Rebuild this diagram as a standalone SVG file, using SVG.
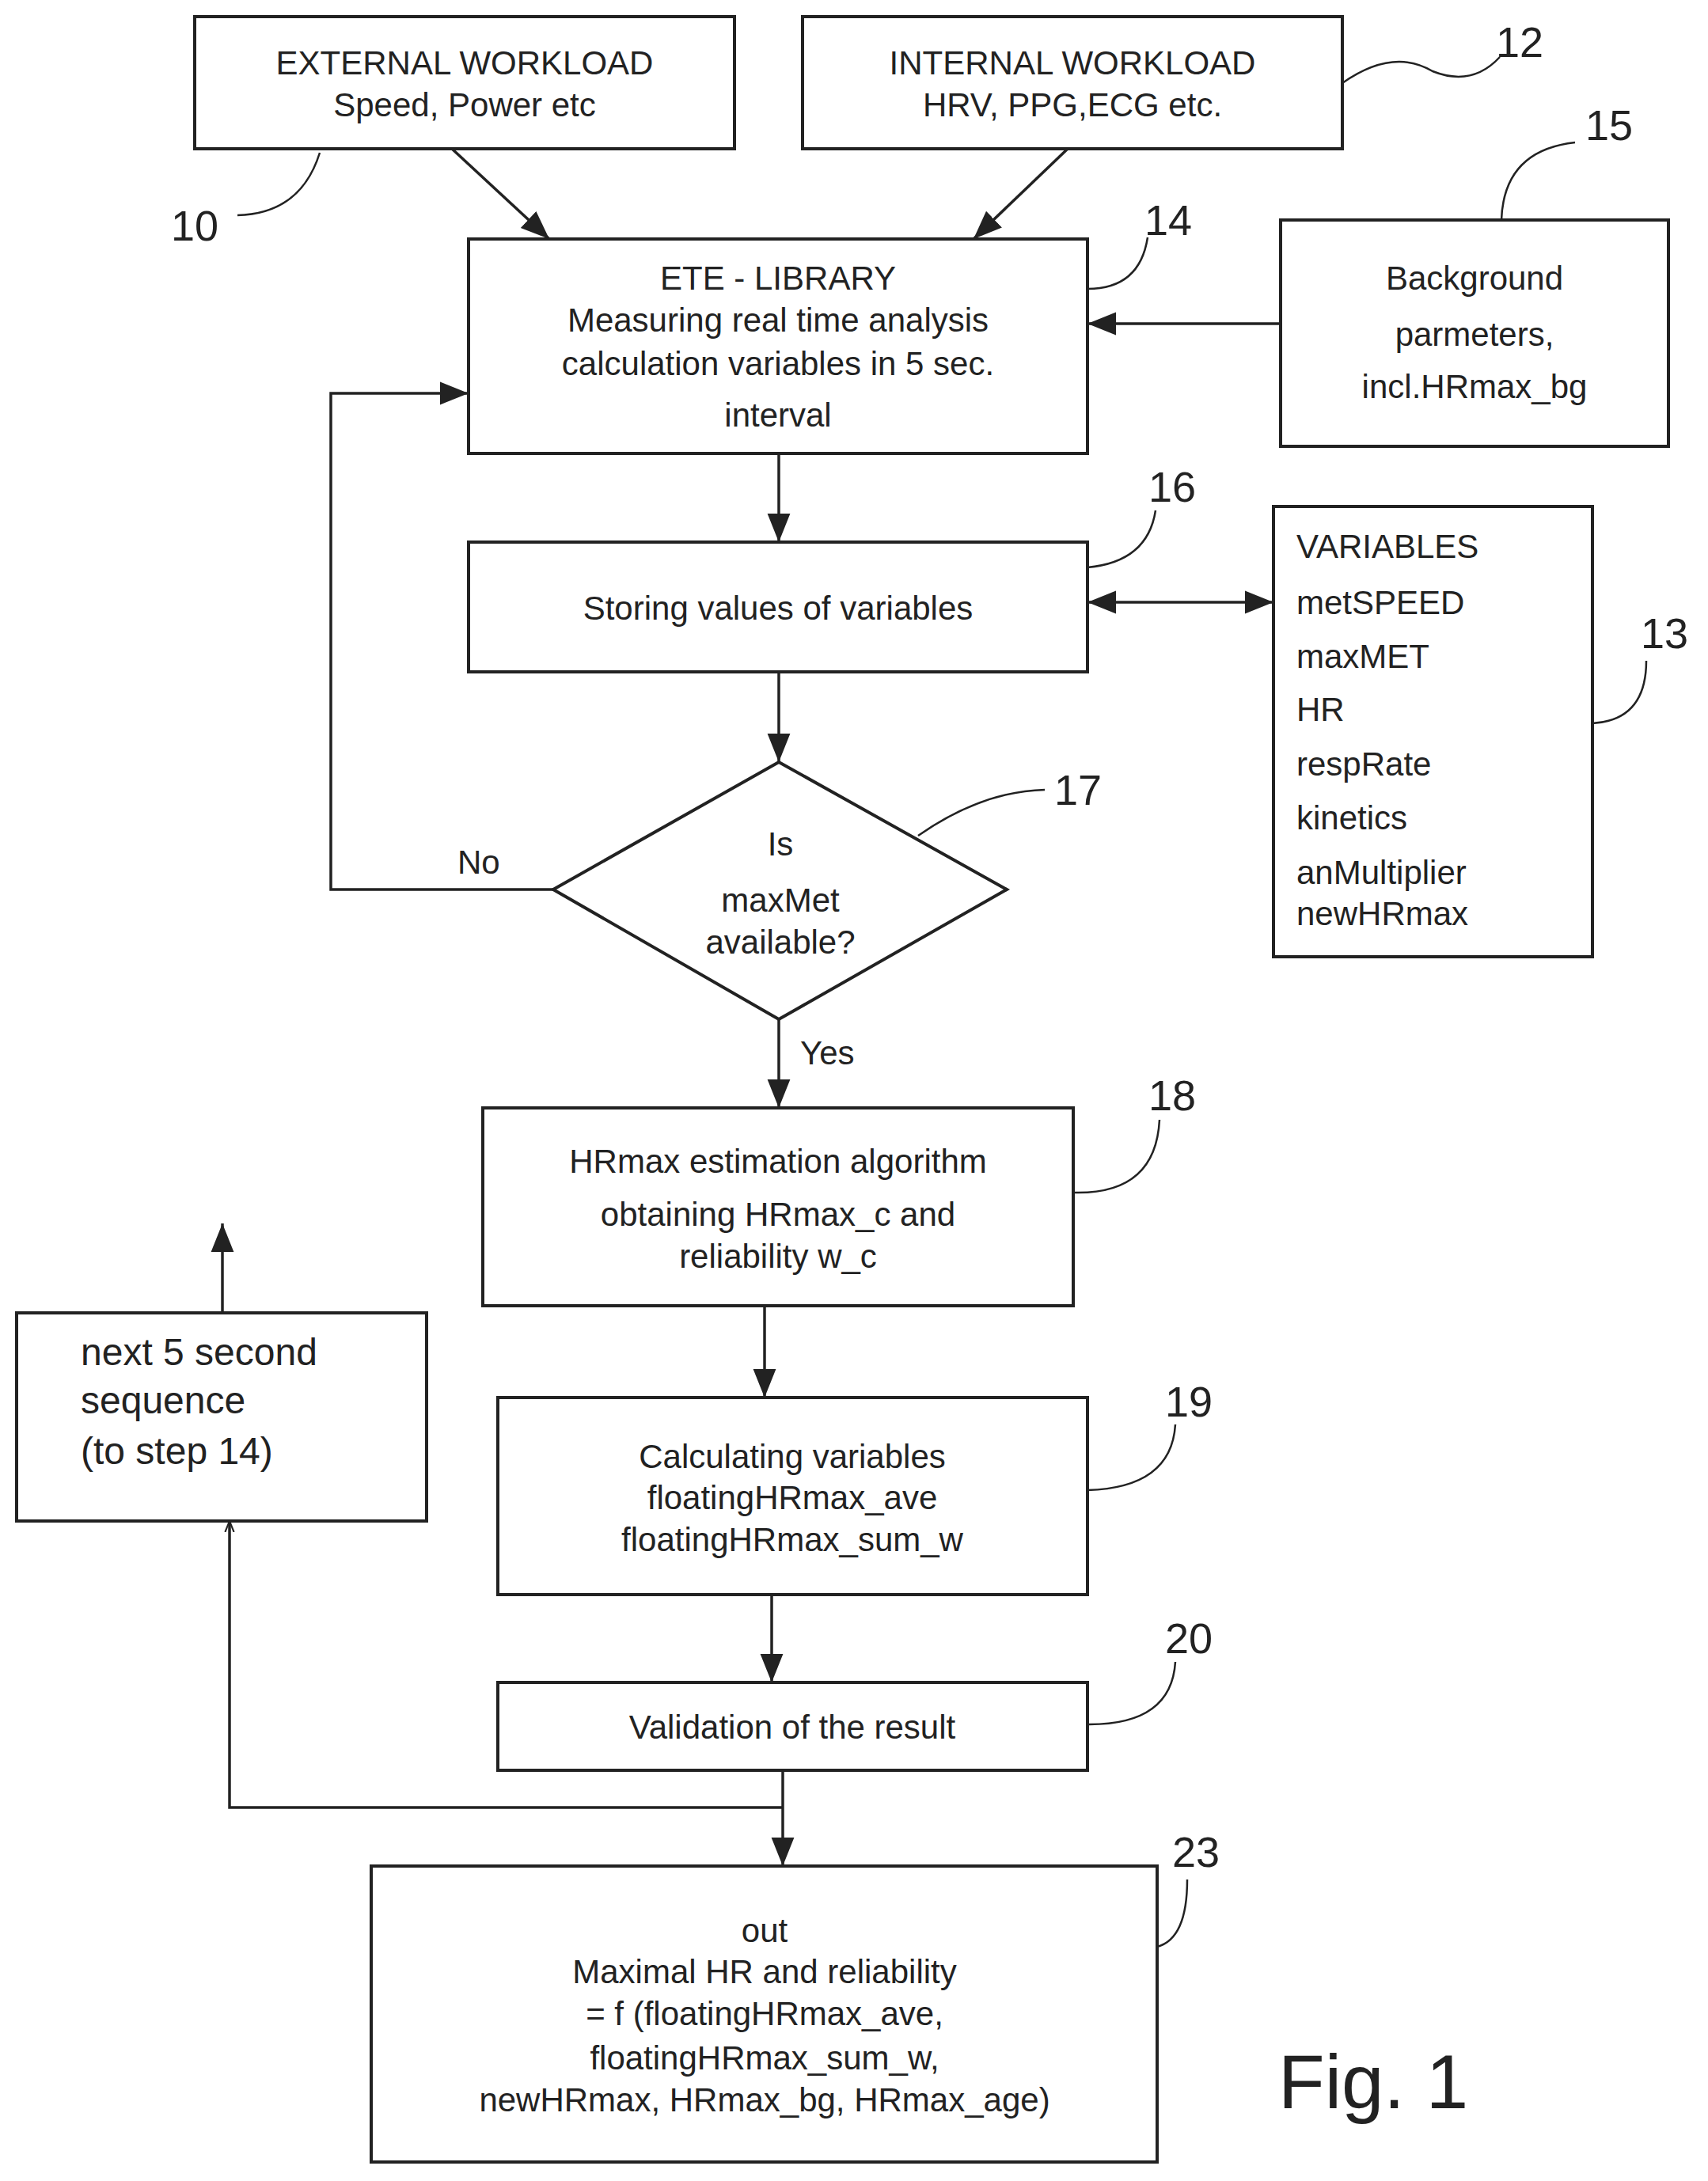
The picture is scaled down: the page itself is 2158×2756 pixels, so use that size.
<svg xmlns="http://www.w3.org/2000/svg" width="2158" height="2756" viewBox="0 0 2158 2756">
<defs>
<marker id="a" viewBox="0 0 10 10" refX="10" refY="5" markerWidth="12" markerHeight="12" markerUnits="userSpaceOnUse" orient="auto-start-reverse"><path d="M0,0 L10,5 L0,10 z" fill="#222"/></marker>
<marker id="b" viewBox="0 0 10 10" refX="10" refY="5" markerWidth="36" markerHeight="36" markerUnits="userSpaceOnUse" orient="auto-start-reverse"><path d="M0,1 L10,5 L0,9 z" fill="#222"/></marker>
<marker id="s" viewBox="0 0 10 10" refX="10" refY="5" markerWidth="14" markerHeight="14" markerUnits="userSpaceOnUse" orient="auto"><path d="M0,1 L10,5 L0,9" fill="none" stroke="#222" stroke-width="1.5"/></marker>
</defs>
<style>
rect,polygon{fill:#fff;stroke:#222;stroke-width:4}
text{font-family:"Liberation Sans",Arial,sans-serif;font-size:42px;fill:#222;dominant-baseline:central}
.c{text-anchor:middle}
.n{font-size:54px;text-anchor:middle}
.l{fill:none;stroke:#222;stroke-width:3.5}
.t{fill:none;stroke:#222;stroke-width:2.5}
</style>
<rect width="2158" height="2756" style="fill:#fff;stroke:none"/>
<g id="connectors">
<path class="l" d="M571,188 L694,302" marker-end="url(#b)"/>
<path class="l" d="M1349,188 L1230,302" marker-end="url(#b)"/>
<path class="l" d="M1618,409 L1374,409" marker-end="url(#b)"/>
<path class="l" d="M984,573 L984,685" marker-end="url(#b)"/>
<path class="l" d="M1374,761 L1609,761" marker-start="url(#b)" marker-end="url(#b)"/>
<path class="l" d="M984,849 L984,963" marker-end="url(#b)"/>
<path class="l" d="M984,1288 L984,1400" marker-end="url(#b)"/>
<path class="l" d="M699,1124 L418,1124 L418,497 L592,497" marker-end="url(#b)"/>
<path class="l" d="M966,1650 L966,1766" marker-end="url(#b)"/>
<path class="l" d="M975,2015 L975,2126" marker-end="url(#b)"/>
<path class="l" d="M989,2237 L989,2358" marker-end="url(#b)"/>
<path class="l" d="M989,2284 L290,2284 L290,1922" marker-end="url(#s)"/>
<path class="l" d="M281,1659 L281,1546" marker-end="url(#b)"/>
<path class="t" d="M404,193 Q380,270 300,272"/>
<path class="t" d="M1696,105 Q1760,60 1810,90 Q1860,110 1895,72"/>
<path class="t" d="M1897,278 Q1900,190 1990,180"/>
<path class="t" d="M1374,365 Q1440,365 1450,300"/>
<path class="t" d="M1374,717 Q1450,710 1460,645"/>
<path class="t" d="M2012,914 Q2080,910 2080,835"/>
<path class="t" d="M1160,1056 Q1240,1000 1320,998"/>
<path class="t" d="M1356,1507 Q1460,1510 1465,1415"/>
<path class="t" d="M1374,1883 Q1480,1880 1485,1800"/>
<path class="t" d="M1374,2179 Q1480,2180 1485,2100"/>
<path class="t" d="M1462,2460 Q1500,2450 1500,2375"/>
</g>
<g id="n10"><rect x="246" y="21" width="682" height="167"/><text class="c" x="587" y="79">EXTERNAL WORKLOAD</text><text class="c" x="587" y="132">Speed, Power etc</text></g>
<g id="n12"><rect x="1014" y="21" width="682" height="167"/><text class="c" x="1355" y="79">INTERNAL WORKLOAD</text><text class="c" x="1355" y="132">HRV, PPG,ECG etc.</text></g>
<g id="n14"><rect x="592" y="302" width="782" height="271"/><text class="c" x="983" y="351">ETE - LIBRARY</text><text class="c" x="983" y="404">Measuring real time analysis</text><text class="c" x="983" y="459">calculation variables in 5 sec.</text><text class="c" x="983" y="524">interval</text></g>
<g id="n15"><rect x="1618" y="278" width="490" height="286"/><text class="c" x="1863" y="351">Background</text><text class="c" x="1863" y="422">parmeters,</text><text class="c" x="1863" y="488">incl.HRmax_bg</text></g>
<g id="n16"><rect x="592" y="685" width="782" height="164"/><text class="c" x="983" y="768">Storing values of variables</text></g>
<g id="n13"><rect x="1609" y="640" width="403" height="569"/><text x="1638" y="690">VARIABLES</text><text x="1638" y="761">metSPEED</text><text x="1638" y="829">maxMET</text><text x="1638" y="896">HR</text><text x="1638" y="965">respRate</text><text x="1638" y="1033">kinetics</text><text x="1638" y="1102">anMultiplier</text><text x="1638" y="1154">newHRmax</text></g>
<g id="n17"><polygon points="699,1124 984,963 1272,1124 984,1288"/><text class="c" x="986" y="1066">Is</text><text class="c" x="986" y="1137">maxMet</text><text class="c" x="986" y="1190">available?</text><text x="578" y="1089">No</text><text x="1011" y="1330">Yes</text></g>
<g id="n18"><rect x="610" y="1400" width="746" height="250"/><text class="c" x="983" y="1467">HRmax estimation algorithm</text><text class="c" x="983" y="1534">obtaining HRmax_c and</text><text class="c" x="983" y="1587">reliability w_c</text></g>
<g id="next"><rect x="21" y="1659" width="518" height="263"/><text x="102" y="1708" style="font-size:48px">next 5 second</text><text x="102" y="1769" style="font-size:48px">sequence</text><text x="102" y="1833" style="font-size:48px">(to step 14)</text></g>
<g id="n19"><rect x="629" y="1766" width="745" height="249"/><text class="c" x="1001" y="1840">Calculating variables</text><text class="c" x="1001" y="1892">floatingHRmax_ave</text><text class="c" x="1001" y="1945">floatingHRmax_sum_w</text></g>
<g id="n20"><rect x="629" y="2126" width="745" height="111"/><text class="c" x="1001" y="2182">Validation of the result</text></g>
<g id="n23"><rect x="469" y="2358" width="993" height="374"/><text class="c" x="966" y="2439">out</text><text class="c" x="966" y="2491">Maximal HR and reliability</text><text class="c" x="966" y="2544">=  f (floatingHRmax_ave,</text><text class="c" x="966" y="2600">floatingHRmax_sum_w,</text><text class="c" x="966" y="2653">newHRmax, HRmax_bg, HRmax_age)</text></g>
<g id="labels"><text class="n" x="246" y="285">10</text><text class="n" x="1920" y="53">12</text><text class="n" x="2033" y="158">15</text><text class="n" x="1476" y="278">14</text><text class="n" x="1481" y="615">16</text><text class="n" x="2103" y="800">13</text><text class="n" x="1362" y="998">17</text><text class="n" x="1481" y="1384">18</text><text class="n" x="1502" y="1771">19</text><text class="n" x="1502" y="2070">20</text><text class="n" x="1511" y="2340">23</text><text x="1615" y="2630" style="font-size:96px">Fig. 1</text></g>
</svg>
